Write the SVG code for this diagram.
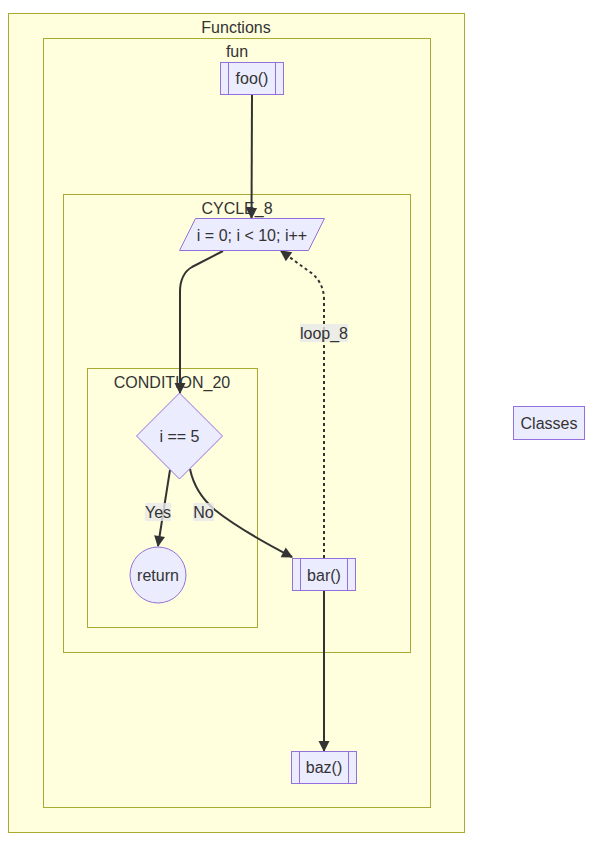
<svg xmlns="http://www.w3.org/2000/svg" width="600" height="846" viewBox="0 0 600 846">
<defs>
<style>
text{font-family:"Liberation Sans",Arial,sans-serif;font-size:16px;fill:#333;text-anchor:middle;dominant-baseline:central}
.cl{fill:#ffffde;stroke:#aaaa33;stroke-width:1}
.nd{fill:#ECECFF;stroke:#9370DB;stroke-width:1}
.e{fill:none;stroke:#333;stroke-width:2}
.dot{stroke-dasharray:3 3}
.lb{fill:#e8e8e8;opacity:0.8}
</style>
<marker id="ah" viewBox="0 0 10 10" refX="9" refY="5" markerWidth="11" markerHeight="11" markerUnits="userSpaceOnUse" orient="auto" overflow="visible">
<path d="M0,0 L10,5 L0,10 z" fill="#333"/>
</marker>
</defs>
<rect width="600" height="846" fill="#fff"/>
<g id="Functions">
<rect class="cl" x="8.5" y="13.5" width="456" height="819"/>
<text x="236" y="27">Functions</text>
</g>
<g id="fun">
<rect class="cl" x="43.5" y="38.5" width="387" height="769"/>
<text x="237" y="51">fun</text>
</g>
<g id="CYCLE_8">
<rect class="cl" x="63.5" y="194.5" width="347" height="458"/>
<text x="237" y="208">CYCLE_8</text>
</g>
<g id="CONDITION_20">
<rect class="cl" x="87.5" y="368.5" width="170" height="259"/>
<text x="172" y="382">CONDITION_20</text>
</g>
<g id="edges">
<path class="e" d="M252,95 L251.5,218" marker-end="url(#ah)"/>
<path class="e" d="M223,251 L192,267 Q180,274 180,292 L180,393" marker-end="url(#ah)"/>
<path class="e" d="M170,470 L158,546" marker-end="url(#ah)"/>
<path class="e" d="M190,469 Q195,493 215,510 Q240,530 292,557" marker-end="url(#ah)"/>
<path class="e dot" d="M324,558 L324,300 Q324,282 310,272 L281,251" marker-end="url(#ah)"/>
<path class="e" d="M324,591 L324,751" marker-end="url(#ah)"/>
<rect class="lb" x="145" y="503" width="26" height="18"/>
<text x="158" y="512">Yes</text>
<rect class="lb" x="193" y="503" width="21" height="18"/>
<text x="203.5" y="512">No</text>
<rect class="lb" x="300" y="324" width="48" height="18"/>
<text x="324" y="333">loop_8</text>
</g>
<g id="foo">
<rect class="nd" x="220.5" y="62.5" width="63" height="32"/>
<line class="nd" x1="228.5" y1="62.5" x2="228.5" y2="94.5"/>
<line class="nd" x1="275.5" y1="62.5" x2="275.5" y2="94.5"/>
<text x="252" y="78.5">foo()</text>
</g>
<g id="loop">
<polygon class="nd" points="195.5,218.5 324.5,218.5 308.5,250.5 179.5,250.5"/>
<text x="252" y="235">i = 0; i &lt; 10; i++</text>
</g>
<g id="cond">
<polygon class="nd" points="179.5,393 222.5,436 179.5,479 136.5,436"/>
<text x="179.5" y="436">i == 5</text>
</g>
<g id="return">
<circle class="nd" cx="158" cy="575" r="28"/>
<text x="158" y="575">return</text>
</g>
<g id="bar">
<rect class="nd" x="292.5" y="558.5" width="63" height="32"/>
<line class="nd" x1="300.5" y1="558.5" x2="300.5" y2="590.5"/>
<line class="nd" x1="347.5" y1="558.5" x2="347.5" y2="590.5"/>
<text x="324" y="575">bar()</text>
</g>
<g id="baz">
<rect class="nd" x="291.5" y="751.5" width="65" height="32"/>
<line class="nd" x1="299.5" y1="751.5" x2="299.5" y2="783.5"/>
<line class="nd" x1="348.5" y1="751.5" x2="348.5" y2="783.5"/>
<text x="324" y="767.5">baz()</text>
</g>
<g id="Classes">
<rect class="nd" x="513.5" y="406.5" width="71" height="33"/>
<text x="549" y="423">Classes</text>
</g>
</svg>
